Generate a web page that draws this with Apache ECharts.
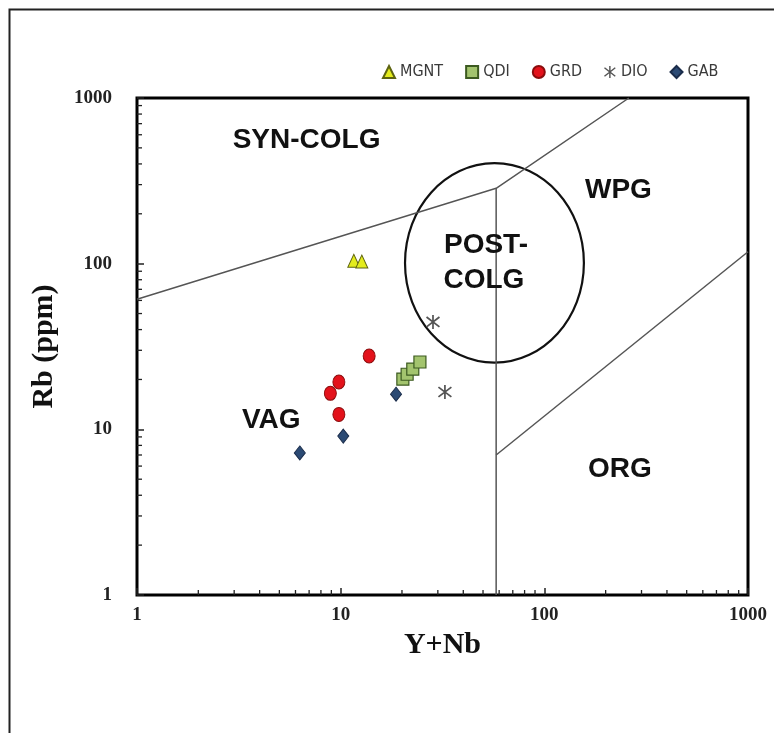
<!DOCTYPE html>
<html>
<head>
<meta charset="utf-8">
<script src="https://cdn.jsdelivr.net/npm/echarts@6/dist/echarts.min.js"></script>
<style>html,body{margin:0;padding:0;background:#fff;}#chart{width:774px;height:733px;}</style>
</head>
<body>
<div id="chart"></div>
<script>
// ---- data (Y+Nb, Rb) ----
var MGNT = [[11.6, 104], [12.7, 103]];
var QDI = [[20.2, 20.1], [21.2, 21.5], [22.6, 23.1], [24.5, 25.5]];
var GRD = [[13.8, 27.7], [9.8, 19.3], [8.9, 16.5], [9.8, 12.3]];
var DIO = [[28.4, 44.5], [32.5, 16.8]];
var GAB = [[18.7, 16.3], [10.3, 9.1], [6.3, 7.2]];

// field boundaries (Pearce et al. 1984)
var boundarySynVag = [[1, 61], [58, 285], [260, 1000]];
var boundaryVertical = [[58, 285], [58, 1]];
var boundaryOrgWpg = [[58, 7], [1000, 118]];
// post-collision ellipse: [centreX, centreY, leftX, topY]
var postColgEllipse = [[56.9, 101, 20.7, 404]];

// field labels
var fieldLabels = [
  {name: 'SYN-COLG', value: [6.8, 556]},
  {name: 'POST-', value: [51.7, 128.5]},
  {name: 'COLG', value: [50.5, 78.9]},
  {name: 'WPG', value: [231, 277]},
  {name: 'VAG', value: [4.56, 11.3]},
  {name: 'ORG', value: [235, 5.72]}
];

// tick labels / minor tick values
var decadeLabels = [1, 10, 100, 1000];
var minorTickValues = [2,3,4,5,6,7,8,9,20,30,40,50,60,70,80,90,200,300,400,500,600,700,800,900];

var asteriskPath = 'path://M4.4,0 L5.6,0 L5.6,10 L4.4,10 Z M0.87,1.03 L9.87,8.03 L9.13,8.97 L0.13,1.97 Z M9.13,1.03 L9.87,1.97 L0.87,8.97 L0.13,8.03 Z';

var chart = echarts.init(document.getElementById('chart'), null, {renderer: 'canvas'});

function boundary(data) {
  return {
    type: 'line', data: data, symbol: 'none', silent: true,
    lineStyle: {color: '#555', width: 1.5}, z: 3, animation: false
  };
}

var option = {
  animation: false,
  backgroundColor: '#fff',
  graphic: [{
    type: 'rect', left: 7, top: 7,
    shape: {width: 820, height: 800},
    style: {fill: 'none', stroke: '#222', lineWidth: 2}, silent: true
  }],
  legend: {
    data: ['MGNT', 'QDI', 'GRD', 'DIO', 'GAB'],
    left: 377, top: 59,
    itemWidth: 12, itemHeight: 12, itemGap: 22,
    textStyle: {fontFamily: '"Liberation Sans Narrow", "DejaVu Sans Condensed", "Liberation Sans"', fontSize: 16, color: '#3a3a3a'}
  },
  grid: {
    left: 137, top: 98, width: 611, height: 497,
    show: true, borderColor: '#000', borderWidth: 3, backgroundColor: 'transparent'
  },
  xAxis: {
    type: 'log', logBase: 10, min: 1, max: 1000,
    name: 'Y+Nb', nameLocation: 'middle', nameGap: 33,
    nameTextStyle: {fontFamily: 'Liberation Serif', fontWeight: 'bold', fontSize: 30, color: '#111'},
    axisLine: {show: false},
    axisTick: {show: true, inside: true, length: 7, lineStyle: {color: '#222', width: 1.5}},
    splitLine: {show: false},
    axisLabel: {
      margin: 11, fontFamily: 'Liberation Serif', fontWeight: 'bold', fontSize: 19, color: '#222',
      formatter: function (v) { return decadeLabels.indexOf(v) >= 0 ? String(v) : ''; }
    }
  },
  yAxis: {
    type: 'log', logBase: 10, min: 1, max: 1000,
    name: 'Rb (ppm)', nameLocation: 'middle', nameGap: 78,
    nameTextStyle: {fontFamily: 'Liberation Serif', fontWeight: 'bold', fontSize: 30, color: '#111'},
    axisLine: {show: false},
    axisTick: {show: true, inside: true, length: 7, lineStyle: {color: '#222', width: 1.5}},
    splitLine: {show: false},
    axisLabel: {
      margin: 25, fontFamily: 'Liberation Serif', fontWeight: 'bold', fontSize: 19, color: '#222',
      formatter: function (v) { return decadeLabels.indexOf(v) >= 0 ? String(v) : ''; }
    }
  },
  series: [
    boundary(boundarySynVag),
    boundary(boundaryVertical),
    boundary(boundaryOrgWpg),
    {
      type: 'custom', name: 'ellipse', silent: true, z: 3,
      data: postColgEllipse,
      renderItem: function (params, api) {
        var c = api.coord([api.value(0), api.value(1)]);
        var l = api.coord([api.value(2), api.value(1)]);
        var t = api.coord([api.value(0), api.value(3)]);
        return {
          type: 'ellipse',
          shape: {cx: c[0], cy: c[1], rx: c[0] - l[0], ry: c[1] - t[1]},
          style: {fill: 'none', stroke: '#111', lineWidth: 2.2}
        };
      }
    },
    {
      type: 'custom', name: 'xMinor', silent: true, z: 4,
      data: minorTickValues.map(function (v) { return [v, 1]; }),
      renderItem: function (params, api) {
        var p = api.coord([api.value(0), api.value(1)]);
        return {type: 'line', shape: {x1: p[0], y1: p[1], x2: p[0], y2: p[1] - 5},
          style: {stroke: '#222', lineWidth: 1.3}};
      }
    },
    {
      type: 'custom', name: 'yMinor', silent: true, z: 4,
      data: minorTickValues.map(function (v) { return [1, v]; }),
      renderItem: function (params, api) {
        var p = api.coord([api.value(0), api.value(1)]);
        return {type: 'line', shape: {x1: p[0], y1: p[1], x2: p[0] + 5, y2: p[1]},
          style: {stroke: '#222', lineWidth: 1.3}};
      }
    },
    {
      type: 'scatter', name: 'fields', silent: true, z: 5,
      data: fieldLabels, symbolSize: 1, itemStyle: {color: 'transparent', opacity: 1},
      label: {
        show: true, position: 'inside', formatter: function (p) { return p.name; },
        fontFamily: 'Liberation Sans', fontWeight: 'bold', fontSize: 28, color: '#111'
      }
    },
    {
      type: 'scatter', name: 'MGNT', data: MGNT, symbol: 'triangle', symbolSize: [12, 13], z: 6,
      itemStyle: {color: '#e4ec1c', borderColor: '#5e6410', borderWidth: 1, opacity: 1}
    },
    {
      type: 'scatter', name: 'QDI', data: QDI, symbol: 'rect', symbolSize: 12, z: 6,
      itemStyle: {color: '#a3c46e', borderColor: '#3c5a20', borderWidth: 1.2, opacity: 1}
    },
    {
      type: 'scatter', name: 'GRD', data: GRD, symbol: 'circle', symbolSize: [12, 14], z: 6,
      itemStyle: {color: '#e3121b', borderColor: '#8a0c0c', borderWidth: 1, opacity: 1}
    },
    {
      type: 'scatter', name: 'DIO', data: DIO, symbol: asteriskPath, symbolSize: 14, z: 6,
      itemStyle: {color: '#555', opacity: 1}
    },
    {
      type: 'scatter', name: 'GAB', data: GAB, symbol: 'diamond', symbolSize: [11, 14], z: 6,
      itemStyle: {color: '#2b4a74', borderColor: '#1a2c4a', borderWidth: 1, opacity: 1}
    }
  ]
};
chart.setOption(option);
</script>
</body>
</html>
